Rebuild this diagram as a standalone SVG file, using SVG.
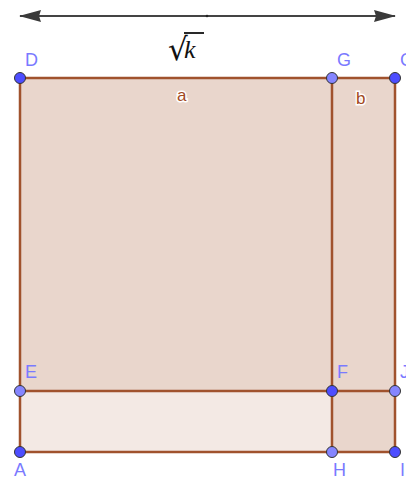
<svg xmlns="http://www.w3.org/2000/svg" width="406" height="482" viewBox="0 0 406 482">
<style>
.edge{stroke:#a0522d;stroke-width:2.5;fill:none;stroke-linecap:round}
.f1{fill:#e9d6cc}
.f2{fill:#f3e9e4}
.pt{stroke:#333;stroke-width:1}
.free{fill:#4d4dff}
.dep{fill:#8585ff}
.lbl{font-family:"Liberation Sans",Arial,sans-serif;font-size:18px;fill:#7a7aff}
.seg{font-family:"Liberation Sans",Arial,sans-serif;font-size:17px;fill:#a24a1e;stroke:#fff;stroke-width:3;paint-order:stroke}
</style>
<defs>
<marker id="ah" markerWidth="22" markerHeight="12" refX="21" refY="6" orient="auto-start-reverse" markerUnits="userSpaceOnUse">
<path d="M0,0 L22,6 L0,12 L2,6 Z" fill="#3a3a3a"/>
</marker>
</defs>
<rect width="406" height="482" fill="#fff"/>
<g id="connectors">
<line x1="20" y1="16" x2="395" y2="16" stroke="#444" stroke-width="2" marker-start="url(#ah)" marker-end="url(#ah)"/>
<circle cx="207" cy="16" r="1.3" fill="#222"/>
</g>
<g id="sqrtk">
<text x="168" y="60" font-family="'DejaVu Serif','Liberation Serif',serif" font-size="31" fill="#111">√</text>
<line x1="184" y1="33" x2="204" y2="33" stroke="#111" stroke-width="1.8"/>
<text x="184" y="58" font-family="'Liberation Serif',serif" font-style="italic" font-size="26" fill="#111">k</text>
</g>
<g id="regions">
<rect class="f1" x="20" y="78" width="312" height="313"/>
<rect class="f1" x="332" y="78" width="63" height="313"/>
<rect class="f2" x="20" y="391" width="312" height="61"/>
<rect class="f1" x="332" y="391" width="63" height="61"/>
</g>
<g id="edges">
<line class="edge" x1="20" y1="78" x2="395" y2="78"/>
<line class="edge" x1="20" y1="391" x2="395" y2="391"/>
<line class="edge" x1="20" y1="452" x2="395" y2="452"/>
<line class="edge" x1="20" y1="78" x2="20" y2="452"/>
<line class="edge" x1="332" y1="78" x2="332" y2="452"/>
<line class="edge" x1="395" y1="78" x2="395" y2="452"/>
</g>
<g id="segment-labels">
<text class="seg" x="177" y="101">a</text>
<text class="seg" x="356" y="104">b</text>
</g>
<g id="D"><circle class="pt free" cx="20" cy="78" r="5.5"/><text class="lbl" x="25" y="66">D</text></g>
<g id="G"><circle class="pt dep" cx="332" cy="78" r="5.5"/><text class="lbl" x="337" y="66">G</text></g>
<g id="C"><circle class="pt free" cx="395" cy="78" r="5.5"/><text class="lbl" x="400" y="66">C</text></g>
<g id="E"><circle class="pt dep" cx="20" cy="391" r="5.5"/><text class="lbl" x="25" y="378">E</text></g>
<g id="F"><circle class="pt free" cx="332" cy="391" r="5.5"/><text class="lbl" x="337" y="378">F</text></g>
<g id="J"><circle class="pt dep" cx="395" cy="391" r="5.5"/><text class="lbl" x="400" y="378">J</text></g>
<g id="A"><circle class="pt free" cx="20" cy="452" r="5.5"/><text class="lbl" x="14" y="476">A</text></g>
<g id="H"><circle class="pt dep" cx="332" cy="452" r="5.5"/><text class="lbl" x="333" y="476">H</text></g>
<g id="I"><circle class="pt free" cx="395" cy="452" r="5.5"/><text class="lbl" x="400" y="476">I</text></g>
</svg>
